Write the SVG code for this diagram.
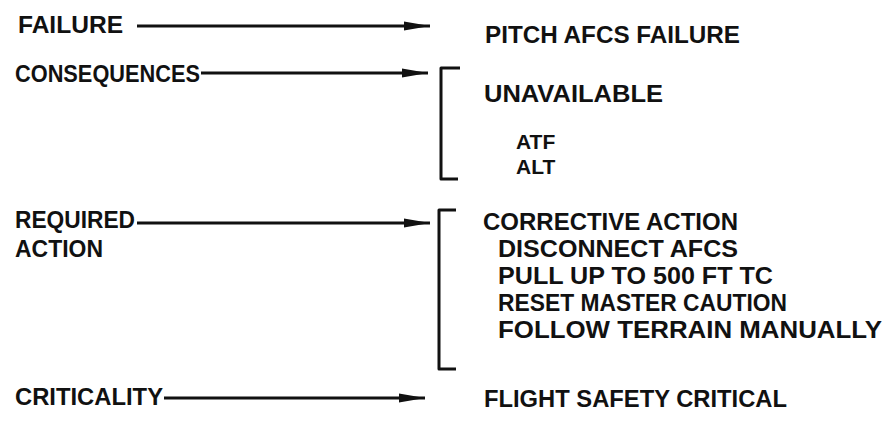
<svg xmlns="http://www.w3.org/2000/svg" width="886" height="425" viewBox="0 0 886 425">
<style>
text{font-family:"Liberation Sans",Arial,sans-serif;font-weight:bold;font-size:24px;fill:#111}
.sm{font-size:21px}
.ln{stroke:#111;stroke-width:2.8;fill:none}
.br{stroke:#111;stroke-width:3;fill:none;stroke-linejoin:round}
</style>
<defs>
<marker id="ah" viewBox="0 0 26 10" refX="26" refY="5" markerWidth="26" markerHeight="10" markerUnits="userSpaceOnUse" orient="auto">
<path d="M0,0.5 L26,5 L0,9.5 Z" fill="#111"/>
</marker>
</defs>
<rect width="886" height="425" fill="#fff"/>
<g id="connectors">
<line class="ln" x1="137" y1="26" x2="430" y2="26" marker-end="url(#ah)"/>
<line class="ln" x1="201" y1="73" x2="428" y2="73" marker-end="url(#ah)"/>
<line class="ln" x1="137" y1="223" x2="430" y2="223" marker-end="url(#ah)"/>
<line class="ln" x1="164" y1="398" x2="425" y2="398" marker-end="url(#ah)"/>
</g>
<g id="failure"><text x="18" y="33" textLength="105" lengthAdjust="spacingAndGlyphs">FAILURE</text></g>
<g id="pitch-afcs-failure"><text x="485" y="43" textLength="255" lengthAdjust="spacingAndGlyphs">PITCH AFCS FAILURE</text></g>
<g id="consequences"><text x="15" y="82" textLength="185" lengthAdjust="spacingAndGlyphs">CONSEQUENCES</text></g>
<g id="unavailable">
<path class="br" d="M460,68 L441,68 L441,179 L458,179"/>
<text x="484" y="102" textLength="179" lengthAdjust="spacingAndGlyphs">UNAVAILABLE</text>
<text class="sm" x="516" y="149">ATF</text>
<text class="sm" x="516" y="174">ALT</text>
</g>
<g id="required-action"><text x="15" y="228" textLength="120" lengthAdjust="spacingAndGlyphs">REQUIRED</text><text x="15" y="257" textLength="88" lengthAdjust="spacingAndGlyphs">ACTION</text></g>
<g id="corrective-action">
<path class="br" d="M456,210 L439,210 L439,369 L456,369"/>
<text x="483" y="230" textLength="255" lengthAdjust="spacingAndGlyphs">CORRECTIVE ACTION</text>
<text x="498" y="257" textLength="240" lengthAdjust="spacingAndGlyphs">DISCONNECT AFCS</text>
<text x="498" y="284" textLength="275" lengthAdjust="spacingAndGlyphs">PULL UP TO 500 FT TC</text>
<text x="498" y="311" textLength="289" lengthAdjust="spacingAndGlyphs">RESET MASTER CAUTION</text>
<text x="498" y="338" textLength="384" lengthAdjust="spacingAndGlyphs">FOLLOW TERRAIN MANUALLY</text>
</g>
<g id="criticality"><text x="15" y="405" textLength="148" lengthAdjust="spacingAndGlyphs">CRITICALITY</text></g>
<g id="flight-safety-critical"><text x="484" y="407" textLength="303" lengthAdjust="spacingAndGlyphs">FLIGHT SAFETY CRITICAL</text></g>
</svg>
